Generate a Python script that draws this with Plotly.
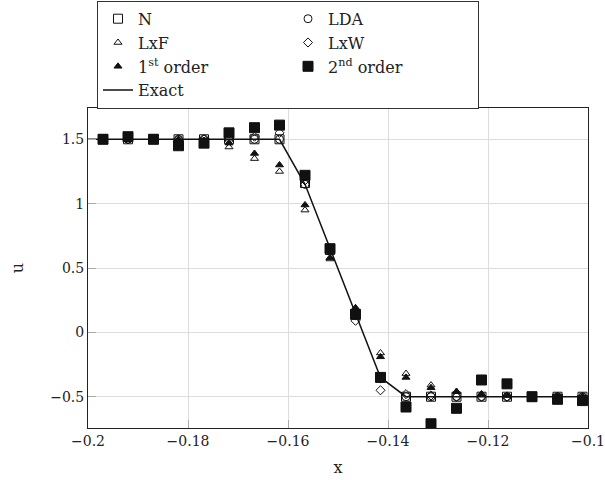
import plotly.graph_objects as go

x = [-0.1970, -0.1920, -0.1869, -0.1819, -0.1768, -0.1718, -0.1667, -0.1617,
     -0.1566, -0.1516, -0.1465, -0.1415, -0.1364, -0.1314, -0.1263, -0.1213,
     -0.1162, -0.1112, -0.1061, -0.1011]

u_N = [1.5, 1.5, 1.5, 1.5, 1.5, 1.5, 1.5, 1.5, 1.16, 0.64, 0.14, -0.35,
       -0.5, -0.5, -0.5, -0.5, -0.5, -0.5, -0.5, -0.5]
u_LDA = [1.5, 1.5, 1.5, 1.5, 1.5, 1.5, 1.5, 1.5, 1.15, 0.64, 0.13, -0.36,
         -0.5, -0.5, -0.5, -0.5, -0.5, -0.5, -0.5, -0.5]
u_LxF = [1.5, 1.5, 1.5, 1.49, 1.49, 1.44, 1.35, 1.25, 0.95, 0.57, 0.19, -0.16,
         -0.32, -0.41, -0.46, -0.48, -0.49, -0.5, -0.5, -0.5]
u_LxW = [1.5, 1.5, 1.5, 1.5, 1.5, 1.51, 1.52, 1.55, 1.18, 0.64, 0.09, -0.45,
         -0.48, -0.49, -0.5, -0.5, -0.5, -0.5, -0.5, -0.5]
u_1st = [1.5, 1.5, 1.5, 1.5, 1.49, 1.47, 1.39, 1.30, 0.99, 0.58, 0.19, -0.19,
         -0.35, -0.43, -0.46, -0.48, -0.49, -0.5, -0.5, -0.5]
u_2nd = [1.50, 1.52, 1.50, 1.45, 1.47, 1.55, 1.59, 1.61, 1.22, 0.65, 0.14, -0.35,
         -0.58, -0.71, -0.59, -0.37, -0.40, -0.50, -0.52, -0.53]

x_exact = [-0.2, -0.1617, -0.1566, -0.1516, -0.1465, -0.1415, -0.1364, -0.1]
u_exact = [1.5, 1.5, 1.15, 0.65, 0.15, -0.35, -0.5, -0.5]

x_ticks = [-0.2, -0.18, -0.16, -0.14, -0.12, -0.1]
y_ticks = [-0.5, 0, 0.5, 1, 1.5]

FONT = "DejaVu Serif"
BLACK = "#111111"

series = [
    ("N", u_N, "square-open", 9),
    ("LDA", u_LDA, "circle-open", 8),
    ("LxF", u_LxF, "triangle-up-open", 7),
    ("LxW", u_LxW, "diamond-open", 7),
    ("1<sup>st</sup> order", u_1st, "triangle-up", 7),
    ("2<sup>nd</sup> order", u_2nd, "square", 10),
]

fig = go.Figure()
for name, vals, sym, size in series:
    fig.add_trace(go.Scatter(
        x=x, y=vals, mode="markers", name=name,
        marker=dict(symbol=sym, size=size, color=BLACK,
                    line=dict(color=BLACK, width=1)),
    ))
fig.add_trace(go.Scatter(
    x=x_exact, y=u_exact, mode="lines", name="Exact",
    line=dict(color=BLACK, width=1.5),
))

fig.update_layout(
    width=605, height=480,
    margin=dict(l=88, r=17, t=108, b=52, autoexpand=False),
    paper_bgcolor="white", plot_bgcolor="white",
    font=dict(family=FONT, size=14, color="#222222"),
    showlegend=True,
    legend=dict(
        orientation="h", x=0.018, xanchor="left", y=1.335, yanchor="top",
        entrywidth=145, bordercolor="#333333", borderwidth=1,
        bgcolor="white", font=dict(family=FONT, size=16, color="#222222"),
        traceorder="normal", itemwidth=30,
    ),
)
fig.update_xaxes(
    range=[-0.2, -0.1], tickvals=x_ticks, automargin=False,
    showgrid=True, gridcolor="#dddddd", gridwidth=1,
    ticks="inside", ticklen=8, tickcolor="#aaaaaa",
    showline=True, linecolor="#222222", linewidth=1, mirror=True,
    zeroline=False,
    title=dict(text="x", font=dict(size=16), standoff=14),
    tickfont=dict(size=14),
)
fig.update_yaxes(
    range=[-0.743, 1.743], tickvals=y_ticks, automargin=False,
    showgrid=True, gridcolor="#dddddd", gridwidth=1,
    ticks="inside", ticklen=8, tickcolor="#aaaaaa",
    showline=True, linecolor="#222222", linewidth=1, mirror=True,
    zeroline=False,
    title=dict(text="u", font=dict(size=16), standoff=22),
    tickfont=dict(size=14),
)

fig.write_html("out.html", config={"displayModeBar": False},
               post_script="document.body.style.margin='0px';")
